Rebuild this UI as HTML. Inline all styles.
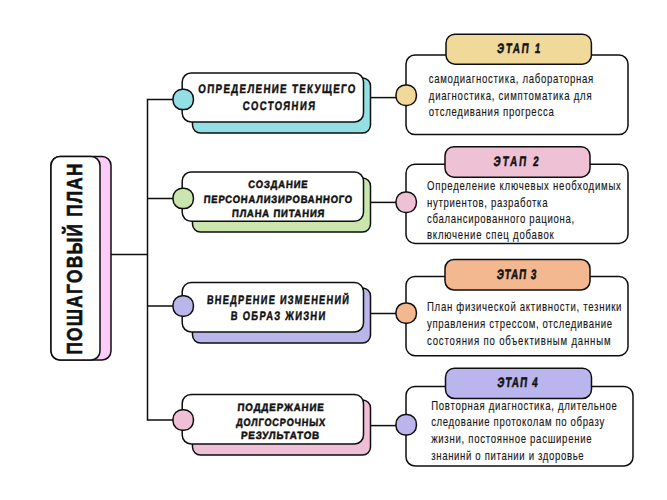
<!DOCTYPE html>
<html><head><meta charset="utf-8"><style>
html,body{margin:0;padding:0;background:#fff;width:667px;height:500px;overflow:hidden}
svg{display:block;font-family:"Liberation Sans",sans-serif}
</style></head><body>
<svg width="667" height="500" viewBox="0 0 667 500">
<rect x="51" y="156.5" width="60" height="203.5" rx="9" ry="9" fill="#FCCBF8" stroke="#0e0e0e" stroke-width="1.5"/>
<rect x="51" y="156.5" width="49" height="203.5" rx="9" ry="9" fill="#fff" stroke="#0e0e0e" stroke-width="1.5"/>
<line x1="111" y1="254.4" x2="147.5" y2="254.4" stroke="#0e0e0e" stroke-width="1.5"/>
<path d="M173,99.4 H147.5 V420 H173 M147.5,198.4 H173 M147.5,306 H173" fill="none" stroke="#0e0e0e" stroke-width="1.5" stroke-linejoin="miter"/>
<rect x="192.5" y="78" width="178" height="55" rx="8" ry="8" fill="#93DFE3" stroke="#0e0e0e" stroke-width="1.5"/>
<rect x="182.2" y="73" width="181.3" height="49" rx="9" ry="9" fill="#fff" stroke="#0e0e0e" stroke-width="1.5"/>
<rect x="173.0" y="89.2" width="20.4" height="20.4" rx="9.3" fill="#93DFE3" stroke="#0e0e0e" stroke-width="1.5"/>
<line x1="370.5" y1="97.6" x2="396" y2="97.6" stroke="#0e0e0e" stroke-width="1.5"/>
<rect x="192.5" y="178" width="178" height="54" rx="8" ry="8" fill="#CAE5AE" stroke="#0e0e0e" stroke-width="1.5"/>
<rect x="182.2" y="172" width="181.3" height="49.30000000000001" rx="9" ry="9" fill="#fff" stroke="#0e0e0e" stroke-width="1.5"/>
<rect x="173.0" y="188.20000000000002" width="20.4" height="20.4" rx="9.3" fill="#CAE5AE" stroke="#0e0e0e" stroke-width="1.5"/>
<line x1="370.5" y1="202.4" x2="396" y2="202.4" stroke="#0e0e0e" stroke-width="1.5"/>
<rect x="192.5" y="288" width="178" height="55" rx="8" ry="8" fill="#BAB6EA" stroke="#0e0e0e" stroke-width="1.5"/>
<rect x="182.2" y="282.6" width="181.3" height="49.39999999999998" rx="9" ry="9" fill="#fff" stroke="#0e0e0e" stroke-width="1.5"/>
<rect x="173.0" y="295.8" width="20.4" height="20.4" rx="9.3" fill="#BAB6EA" stroke="#0e0e0e" stroke-width="1.5"/>
<line x1="370.5" y1="313.5" x2="396" y2="313.5" stroke="#0e0e0e" stroke-width="1.5"/>
<rect x="192.5" y="400" width="178" height="55" rx="8" ry="8" fill="#EFC0D5" stroke="#0e0e0e" stroke-width="1.5"/>
<rect x="182.2" y="394.4" width="181.3" height="49.60000000000002" rx="9" ry="9" fill="#fff" stroke="#0e0e0e" stroke-width="1.5"/>
<rect x="173.0" y="409.8" width="20.4" height="20.4" rx="9.3" fill="#EFC0D5" stroke="#0e0e0e" stroke-width="1.5"/>
<line x1="370.5" y1="425.6" x2="396" y2="425.6" stroke="#0e0e0e" stroke-width="1.5"/>
<rect x="406" y="55" width="222" height="79.6" rx="9" ry="9" fill="#fff" stroke="#0e0e0e" stroke-width="1.5"/>
<rect x="446" y="34.2" width="145.39999999999998" height="30.0" rx="9" ry="9" fill="#F1D999" stroke="#0e0e0e" stroke-width="1.5"/>
<rect x="396.0" y="85.1" width="20.4" height="20.4" rx="9.3" fill="#F1D999" stroke="#0e0e0e" stroke-width="1.5"/>
<rect x="406" y="164.2" width="222" height="79.20000000000002" rx="9" ry="9" fill="#fff" stroke="#0e0e0e" stroke-width="1.5"/>
<rect x="445" y="146.7" width="145" height="30.5" rx="9" ry="9" fill="#EEC1D5" stroke="#0e0e0e" stroke-width="1.5"/>
<rect x="396.0" y="192.0" width="20.4" height="20.4" rx="9.3" fill="#EEC1D5" stroke="#0e0e0e" stroke-width="1.5"/>
<rect x="406" y="276.4" width="222" height="79.30000000000001" rx="9" ry="9" fill="#fff" stroke="#0e0e0e" stroke-width="1.5"/>
<rect x="445" y="259.5" width="145" height="30.5" rx="9" ry="9" fill="#F3B88F" stroke="#0e0e0e" stroke-width="1.5"/>
<rect x="396.0" y="302.90000000000003" width="20.4" height="20.4" rx="9.3" fill="#F3B88F" stroke="#0e0e0e" stroke-width="1.5"/>
<rect x="406" y="386.4" width="227" height="79.60000000000002" rx="9" ry="9" fill="#fff" stroke="#0e0e0e" stroke-width="1.5"/>
<rect x="445.5" y="368.2" width="146.0" height="30.30000000000001" rx="9" ry="9" fill="#BAB5EC" stroke="#0e0e0e" stroke-width="1.5"/>
<rect x="396.0" y="414.6" width="20.4" height="20.4" rx="9.3" fill="#BAB5EC" stroke="#0e0e0e" stroke-width="1.5"/>
<text transform="translate(198.1,93.4) skewX(-4) scale(0.7939,1)" font-size="12.3" font-weight="bold" fill="#111" stroke="#111" stroke-width="0.45" textLength="197.88" lengthAdjust="spacing">ОПРЕДЕЛЕНИЕ ТЕКУЩЕГО</text>
<text transform="translate(242.6,110) skewX(-4) scale(0.7694,1)" font-size="12.3" font-weight="bold" fill="#111" stroke="#111" stroke-width="0.45" textLength="93.71" lengthAdjust="spacing">СОСТОЯНИЯ</text>
<text transform="translate(248,188.2) skewX(-4) scale(0.8940,1)" font-size="10.6" font-weight="bold" fill="#111" stroke="#111" stroke-width="0.5" textLength="66.44" lengthAdjust="spacing">СОЗДАНИЕ</text>
<text transform="translate(203.5,202.5) skewX(-4) scale(0.8944,1)" font-size="10.6" font-weight="bold" fill="#111" stroke="#111" stroke-width="0.5" textLength="166.04" lengthAdjust="spacing">ПЕРСОНАЛИЗИРОВАННОГО</text>
<text transform="translate(231.8,217.3) skewX(-4) scale(0.8979,1)" font-size="10.6" font-weight="bold" fill="#111" stroke="#111" stroke-width="0.5" textLength="102.80" lengthAdjust="spacing">ПЛАНА ПИТАНИЯ</text>
<text transform="translate(206.7,303.6) skewX(-4) scale(0.7497,1)" font-size="12.3" font-weight="bold" fill="#111" stroke="#111" stroke-width="0.45" textLength="189.40" lengthAdjust="spacing">ВНЕДРЕНИЕ ИЗМЕНЕНИЙ</text>
<text transform="translate(230.5,319.8) skewX(-4) scale(0.7692,1)" font-size="12.3" font-weight="bold" fill="#111" stroke="#111" stroke-width="0.45" textLength="122.86" lengthAdjust="spacing">В ОБРАЗ ЖИЗНИ</text>
<text transform="translate(237.2,410.7) skewX(-4) scale(0.9218,1)" font-size="10.6" font-weight="bold" fill="#111" stroke="#111" stroke-width="0.5" textLength="93.73" lengthAdjust="spacing">ПОДДЕРЖАНИЕ</text>
<text transform="translate(235.9,425.8) skewX(-4) scale(0.8677,1)" font-size="10.6" font-weight="bold" fill="#111" stroke="#111" stroke-width="0.5" textLength="102.69" lengthAdjust="spacing">ДОЛГОСРОЧНЫХ</text>
<text transform="translate(240.7,439.3) skewX(-4) scale(0.9326,1)" font-size="10.6" font-weight="bold" fill="#111" stroke="#111" stroke-width="0.5" textLength="83.96" lengthAdjust="spacing">РЕЗУЛЬТАТОВ</text>
<text transform="translate(496.8,52.8) skewX(-6) scale(0.7200,1)" font-size="13.6" font-weight="bold" fill="#111" stroke="#111" stroke-width="0.55" textLength="60.00" lengthAdjust="spacing">ЭТАП 1</text>
<text transform="translate(493.2,165.9) skewX(-6) scale(0.7200,1)" font-size="13.6" font-weight="bold" fill="#111" stroke="#111" stroke-width="0.55" textLength="62.64" lengthAdjust="spacing">ЭТАП 2</text>
<text transform="translate(496.4,279) skewX(-6) scale(0.7200,1)" font-size="13.6" font-weight="bold" fill="#111" stroke="#111" stroke-width="0.55" textLength="54.86" lengthAdjust="spacing">ЭТАП 3</text>
<text transform="translate(497,387.2) skewX(-6) scale(0.7200,1)" font-size="13.6" font-weight="bold" fill="#111" stroke="#111" stroke-width="0.55" textLength="55.69" lengthAdjust="spacing">ЭТАП 4</text>
<text transform="translate(428.8,82.6) scale(0.8000,1)" font-size="12" font-weight="normal" fill="#151515" stroke="#151515" stroke-width="0.12" textLength="205.50" lengthAdjust="spacing">самодиагностика, лабораторная</text>
<text transform="translate(428.8,99.89999999999999) scale(0.8000,1)" font-size="12" font-weight="normal" fill="#151515" stroke="#151515" stroke-width="0.12" textLength="203.50" lengthAdjust="spacing">диагностика, симптоматика для</text>
<text transform="translate(428.8,116.3) scale(0.8000,1)" font-size="12" font-weight="normal" fill="#151515" stroke="#151515" stroke-width="0.12" textLength="156.25" lengthAdjust="spacing">отследивания прогресса</text>
<text transform="translate(427,190.4) scale(0.8000,1)" font-size="12" font-weight="normal" fill="#151515" stroke="#151515" stroke-width="0.12" textLength="242.38" lengthAdjust="spacing">Определение ключевых необходимых</text>
<text transform="translate(427,206.8) scale(0.8000,1)" font-size="12" font-weight="normal" fill="#151515" stroke="#151515" stroke-width="0.12" textLength="150.62" lengthAdjust="spacing">нутриентов, разработка</text>
<text transform="translate(427,222.9) scale(0.8000,1)" font-size="12" font-weight="normal" fill="#151515" stroke="#151515" stroke-width="0.12" textLength="184.12" lengthAdjust="spacing">сбалансированного рациона,</text>
<text transform="translate(427,239.0) scale(0.8000,1)" font-size="12" font-weight="normal" fill="#151515" stroke="#151515" stroke-width="0.12" textLength="158.50" lengthAdjust="spacing">включение спец добавок</text>
<text transform="translate(427,311.3) scale(0.8000,1)" font-size="12" font-weight="normal" fill="#151515" stroke="#151515" stroke-width="0.12" textLength="243.12" lengthAdjust="spacing">План физической активности, тезники</text>
<text transform="translate(427,327.8) scale(0.8000,1)" font-size="12" font-weight="normal" fill="#151515" stroke="#151515" stroke-width="0.12" textLength="231.25" lengthAdjust="spacing">управления стрессом, отследивание</text>
<text transform="translate(427,344.6) scale(0.8000,1)" font-size="12" font-weight="normal" fill="#151515" stroke="#151515" stroke-width="0.12" textLength="229.38" lengthAdjust="spacing">состояния по объективным данным</text>
<text transform="translate(431.2,410.0) scale(0.8000,1)" font-size="12" font-weight="normal" fill="#151515" stroke="#151515" stroke-width="0.12" textLength="232.00" lengthAdjust="spacing">Повторная диагностика, длительное</text>
<text transform="translate(431.2,426.1) scale(0.8000,1)" font-size="12" font-weight="normal" fill="#151515" stroke="#151515" stroke-width="0.12" textLength="216.25" lengthAdjust="spacing">следование протоколам по образу</text>
<text transform="translate(431.2,442.90000000000003) scale(0.8000,1)" font-size="12" font-weight="normal" fill="#151515" stroke="#151515" stroke-width="0.12" textLength="200.50" lengthAdjust="spacing">жизни, постоянное расширение</text>
<text transform="translate(431.2,459.7) scale(0.8000,1)" font-size="12" font-weight="normal" fill="#151515" stroke="#151515" stroke-width="0.12" textLength="190.62" lengthAdjust="spacing">знанинй о питании и здоровье</text>
<text transform="translate(81.6,354.6) rotate(-90) scale(0.8,1)" font-size="21.5" font-weight="bold" fill="#111" stroke="#111" stroke-width="0.6" textLength="238.9" lengthAdjust="spacing">ПОШАГОВЫЙ ПЛАН</text>
</svg>
</body></html>
